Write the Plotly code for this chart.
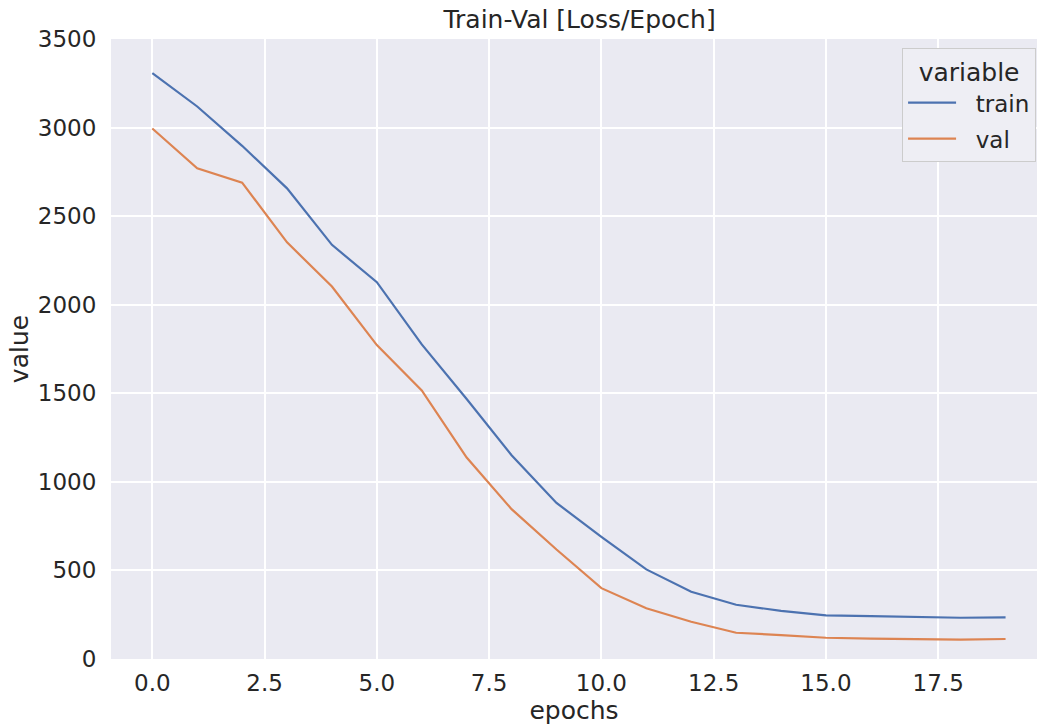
import plotly.graph_objects as go

# Loss per epoch for the training and validation runs
epochs = list(range(20))
train_loss = [3307, 3119, 2897, 2657, 2338, 2127, 1776, 1468, 1150, 881,
              690, 506, 380, 306, 272, 246, 242, 239, 233, 235]
val_loss = [2995, 2770, 2689, 2352, 2103, 1772, 1516, 1137, 846, 618,
            400, 286, 210, 148, 135, 120, 115, 113, 109, 113]

series_names = ["train", "val"]
series_colors = ["#4C72B0", "#DD8452"]
x_ticks = [0.0, 2.5, 5.0, 7.5, 10.0, 12.5, 15.0, 17.5]
y_ticks = [0, 500, 1000, 1500, 2000, 2500, 3000, 3500]

text_color = "#262626"
font_family = "DejaVu Sans"

fig = go.Figure()
for name, values, color in zip(series_names, [train_loss, val_loss], series_colors):
    fig.add_trace(go.Scatter(
        x=epochs, y=values, mode="lines",
        # non-breaking spaces widen the gap between legend line and label
        name="\u00a0\u00a0" + name, legendgroup=name,
        line=dict(color=color, width=2.2),
    ))

fig.update_layout(
    width=1037, height=727,
    margin=dict(l=111, r=0, t=39, b=68),
    paper_bgcolor="white",
    plot_bgcolor="#EAEAF2",
    font=dict(family=font_family, color=text_color, size=23),
    title=dict(
        text="Train-Val [Loss/Epoch]",
        x=0.506, xanchor="center", xref="paper",
        y=1 - 19 / 727, yref="container", yanchor="middle",
        font=dict(size=25, color=text_color),
    ),
    legend=dict(
        title=dict(text="variable", side="top center", font=dict(size=25)),
        x=0.999, xanchor="right", y=0.986, yanchor="top",
        bgcolor="#EEEEF4", bordercolor="#CCCCCC", borderwidth=1,
        font=dict(size=23),
        itemwidth=48,
        tracegroupgap=3,
    ),
)

fig.update_xaxes(
    range=[-0.92, 19.70],
    tickvals=x_ticks, ticktext=[f"{v:.1f}" for v in x_ticks],
    showgrid=True, gridcolor="white", gridwidth=1.6,
    zeroline=False, showline=False,
    ticks="outside", ticklen=3, tickcolor="rgba(0,0,0,0)",
    title=dict(text="epochs", font=dict(size=25), standoff=0),
)
fig.update_yaxes(
    range=[0, 3500],
    tickvals=y_ticks,
    showgrid=True, gridcolor="white", gridwidth=1.6,
    zeroline=False, showline=False,
    ticks="outside", ticklen=9, tickcolor="rgba(0,0,0,0)",
    title=dict(text="value", font=dict(size=25), standoff=2),
)

fig.write_html("out.html")
